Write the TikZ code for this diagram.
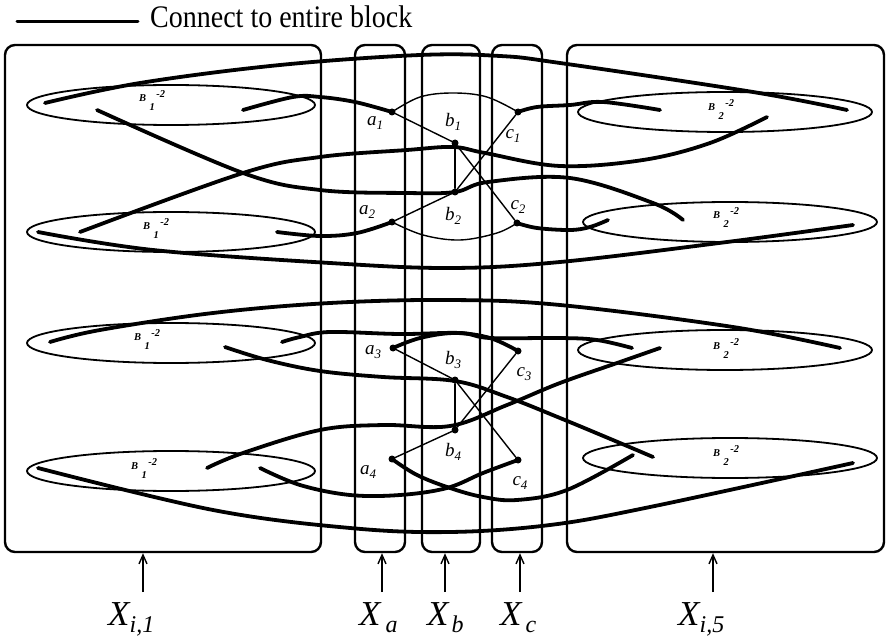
\documentclass[tikz,border=0pt]{standalone}
\usepackage{fontspec}
\setmainfont{Liberation Serif}
\usetikzlibrary{shapes.geometric,arrows.meta}
\newcommand{\nlab}[2]{#1\raisebox{-4.5pt}{\fontsize{13}{13}\selectfont #2}}
\newcommand{\blabtext}[1]{B\hspace{3.5pt}\raisebox{-9pt}{#1}\hspace{1.5pt}\raisebox{4pt}{-2}}
\newcommand{\xlab}[2]{X\hspace{#2}\raisebox{-7pt}{\fontsize{24}{24}\selectfont #1}}
\begin{document}
\begin{tikzpicture}[x=1pt,y=-1pt,
 conn/.style={line width=3.8pt,line cap=round,line join=round},
 link/.style={line width=1.4pt,line cap=round,line join=round},
 block/.style={draw,line width=2.4pt,rounded corners=10pt,inner sep=0pt},
 bell/.style={draw,ellipse,line width=1.8pt,inner sep=0pt},
 dotn/.style={circle,fill,inner sep=0pt,minimum size=7pt},
 nl/.style={font=\fontsize{19}{19}\selectfont\itshape,inner sep=0pt},
 bl/.style={font=\fontsize{10.5}{10.5}\selectfont\bfseries\itshape,inner sep=0pt,anchor=base west},
 xl/.style={font=\fontsize{35}{35}\selectfont\itshape,inner sep=0pt,anchor=base west},
 arr/.style={line width=1.4pt,-{Straight Barb[length=9pt,width=8pt]}}]
\useasboundingbox (0,0) rectangle (886,636);

% legend
\coordinate (lg1) at (17,22);
\coordinate (lg2) at (138,22);
\draw[conn,line width=3pt] (lg1) -- (lg2);
\node[anchor=base west,inner sep=0pt,font=\fontsize{28}{28}\selectfont] (legend) at (150,28) {\scalebox{1}[1.12]{Connect to entire block}};

% blocks
\node[block,minimum width=316pt,minimum height=507pt] (B1) at (163,298.5) {};
\node[block,minimum width=50pt,minimum height=507pt] (Ba) at (380,298.5) {};
\node[block,minimum width=58pt,minimum height=507pt] (Bb) at (451,298.5) {};
\node[block,minimum width=50pt,minimum height=507pt] (Bc) at (517,298.5) {};
\node[block,minimum width=317pt,minimum height=507pt] (B5) at (725.5,298.5) {};

% ellipses
\node[bell,minimum width=288pt,minimum height=40pt] (L1) at (171,105) {};
\node[bell,minimum width=288pt,minimum height=40pt] (L2) at (171,232) {};
\node[bell,minimum width=288pt,minimum height=40pt] (L3) at (171,343) {};
\node[bell,minimum width=288pt,minimum height=40pt] (L4) at (171,471) {};
\node[bell,minimum width=294pt,minimum height=40pt] (R1) at (725,112) {};
\node[bell,minimum width=294pt,minimum height=40pt] (R2) at (730,222) {};
\node[bell,minimum width=294pt,minimum height=40pt] (R3) at (725,350) {};
\node[bell,minimum width=294pt,minimum height=40pt] (R4) at (730,458) {};

\node[bl] (bL1) at (139,102) {\blabtext{1}};
\node[bl] (bL2) at (143,230) {\blabtext{1}};
\node[bl] (bL3) at (134,341) {\blabtext{1}};
\node[bl] (bL4) at (131,469) {\blabtext{1}};
\node[bl] (bR1) at (708,111) {\blabtext{2}};
\node[bl] (bR2) at (713,219) {\blabtext{2}};
\node[bl] (bR3) at (713,349) {\blabtext{2}};
\node[bl] (bR4) at (713,456) {\blabtext{2}};

% vertex nodes
\node[dotn] (a1) at (392,112) {};
\node[dotn] (b1) at (455,143) {};
\node[dotn] (c1) at (518,112) {};
\node[dotn] (a2) at (392,222) {};
\node[dotn] (b2) at (455,192) {};
\node[dotn] (c2) at (517,223) {};
\node[dotn] (a3) at (393,348) {};
\node[dotn] (b3) at (455,380) {};
\node[dotn] (c3) at (518,351) {};
\node[dotn] (a4) at (392,459) {};
\node[dotn] (b4) at (455,430) {};
\node[dotn] (c4) at (518,460) {};

% free ends of block connectors
\coordinate (p1) at (45,103);   \coordinate (q1) at (847,110);
\coordinate (p2) at (97,110);   \coordinate (q2) at (683,220);
\coordinate (p3) at (80,232);   \coordinate (q3) at (767,117);
\coordinate (p4) at (38,232);   \coordinate (q4) at (853,225);
\coordinate (p5) at (243,110);  \coordinate (q6) at (660,110);
\coordinate (p7) at (277,232);  \coordinate (q8) at (608,220);
\coordinate (p9) at (50,342);   \coordinate (q9) at (840,348);
\coordinate (p10) at (225,347); \coordinate (q10) at (653,457);
\coordinate (p11) at (207,468); \coordinate (q11) at (660,348);
\coordinate (p12) at (282,342); \coordinate (q12) at (632,348);
\coordinate (p13) at (260,468); \coordinate (q14) at (633,455);
\coordinate (p15) at (38,468);  \coordinate (q15) at (853,463);

% thick connectors
\draw[conn] plot[smooth,tension=0.6] coordinates {(p1) (140,83) (280,65) (420,55) (500,56) (560,63) (753,92) (q1)};
\draw[conn] plot[smooth,tension=0.6] coordinates {(p2) (243,173) (320,190) (407,193) (455,192) (488,182) (570,178) (653,203) (q2)};
\draw[conn] plot[smooth,tension=0.6] coordinates {(p3) (243,173) (320,157) (407,150) (453,147) (485,153) (560,166) (643,160) (710,143) (q3)};
\draw[conn] plot[smooth,tension=0.6] coordinates {(p4) (153,250) (330,263) (450,268) (560,262) (727,242) (q4)};
\draw[conn] plot[smooth,tension=0.6] coordinates {(p5) (293,97) (320,97) (355,102) (a1.center)};
\draw[conn] plot[smooth,tension=0.6] coordinates {(c1.center) (537,107) (570,105) (603,102) (q6)};
\draw[conn] plot[smooth,tension=0.6] coordinates {(p7) (320,236) (357,233) (a2.center)};
\draw[conn] plot[smooth,tension=0.6] coordinates {(c2.center) (537,228) (570,230) (590,227) (q8)};

\draw[conn] plot[smooth,tension=0.6] coordinates {(p9) (100,330) (213,313) (330,303) (450,300) (560,305) (733,327) (q9)};
\draw[conn] plot[smooth,tension=0.6] coordinates {(p10) (267,360) (320,371) (383,377) (455,381) (507,397) (560,418) (620,443) (q10)};
\draw[conn] plot[smooth,tension=0.6] coordinates {(p11) (243,453) (320,430) (383,425) (450,426) (507,405) (560,383) (620,362) (q11)};
\draw[conn] plot[smooth,tension=0.6] coordinates {(p12) (300,337) (330,332) (400,334) (460,333) (490,338) (560,338) (597,340) (q12)};
\draw[conn] plot[smooth,tension=0.6] coordinates {(a3.center) (420,338) (455,333) (490,338) (c3.center)};
\draw[conn] plot[smooth,tension=0.6] coordinates {(p13) (300,485) (350,495) (400,495) (447,488) (483,473) (c4.center)};
\draw[conn] plot[smooth,tension=0.6] coordinates {(a4.center) (417,475) (450,488) (483,497) (517,500) (567,490) (q14)};
\draw[conn] plot[smooth,tension=0.6] coordinates {(p15) (213,510) (350,528) (450,532) (550,525) (650,507) (q15)};

% thin links
\draw[link] (a1) -- (b1);
\draw[link] (b1) -- (b2);
\draw[link] (b1) -- (c2);
\draw[link] (b2) -- (c1);
\draw[link] (a2) -- (b2);
\draw[link] plot[smooth,tension=0.6] coordinates {(a1.center) (420,97) (453,93) (487,97) (c1.center)};
\draw[link] plot[smooth,tension=0.6] coordinates {(a2.center) (423,235) (460,240) (497,233) (c2.center)};
\draw[link] (a3) -- (b3);
\draw[link] (b3) -- (b4);
\draw[link] (b3) -- (c4);
\draw[link] (b4) -- (c3);
\draw[link] (a4) -- (b4);

% vertex labels
\node[nl] (la1) at (375,123) {\nlab{a}{1}};
\node[nl] (lb1) at (453,122) {\nlab{b}{1}};
\node[nl] (lc1) at (513,136) {\nlab{c}{1}};
\node[nl] (la2) at (367,212) {\nlab{a}{2}};
\node[nl] (lb2) at (453,216) {\nlab{b}{2}};
\node[nl] (lc2) at (518,207) {\nlab{c}{2}};
\node[nl] (la3) at (373,352) {\nlab{a}{3}};
\node[nl] (lb3) at (453,360) {\nlab{b}{3}};
\node[nl] (lc3) at (524,374) {\nlab{c}{3}};
\node[nl] (la4) at (368,472) {\nlab{a}{4}};
\node[nl] (lb4) at (453,452) {\nlab{b}{4}};
\node[nl] (lc4) at (520,483) {\nlab{c}{4}};

% bottom labels and arrows
\node[xl] (lx1) at (108,625) {\xlab{i,1}{0pt}};
\node[xl] (lxa) at (359,625) {\xlab{a}{5pt}};
\node[xl] (lxb) at (427,625) {\xlab{b}{3pt}};
\node[xl] (lxc) at (500,625) {\xlab{c}{4pt}};
\node[xl] (lx5) at (678,625) {\xlab{i,5}{0pt}};
\coordinate (t1) at (143,592);
\coordinate (ta) at (382,592);
\coordinate (tb) at (445,592);
\coordinate (tc) at (520,592);
\coordinate (t5) at (713,592);
\draw[arr] (t1) -- (t1 |- B1.south);
\draw[arr] (ta) -- (ta |- Ba.south);
\draw[arr] (tb) -- (tb |- Bb.south);
\draw[arr] (tc) -- (tc |- Bc.south);
\draw[arr] (t5) -- (t5 |- B5.south);
\end{tikzpicture}
\end{document}
